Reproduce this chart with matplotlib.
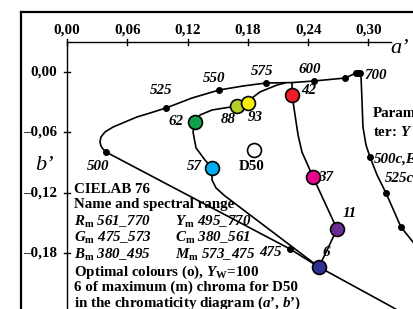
import numpy as np
import matplotlib.pyplot as plt

plt.rcParams['font.family'] = ['Liberation Serif', 'DejaVu Serif']
plt.rcParams['mathtext.fontset'] = 'custom'
plt.rcParams['mathtext.rm'] = 'Liberation Serif:bold'
plt.rcParams['mathtext.it'] = 'Liberation Serif:italic:bold'
plt.rcParams['mathtext.bf'] = 'Liberation Serif:bold'

# Spectral locus (a', b')
locus_a = [0.2925, 0.2876, 0.2766, 0.2458, 0.2239, 0.1980, 0.1751, 0.1512, 0.1244,
           0.0985, 0.0826, 0.0697, 0.0577, 0.0458, 0.0378, 0.0338, 0.0328, 0.0338,
           0.0358, 0.0388, 0.2219, 0.2507, 0.3234, 0.3612]
locus_b = [-0.0010, -0.0010, -0.0060, -0.0089, -0.0105, -0.0109, -0.0139, -0.0179, -0.0258,
           -0.0357, -0.0407, -0.0446, -0.0496, -0.0546, -0.0595, -0.0645, -0.0694, -0.0734,
           -0.0764, -0.0794, -0.1756, -0.1935, -0.2331, -0.2560]

# labelled wavelength points on the locus
wl_labels = ['700', '600', '575', '550', '525', '500', '475']
wl_a = [0.2915, 0.2458, 0.1980, 0.1512, 0.0985, 0.0388, 0.2219]
wl_b = [-0.0010, -0.0089, -0.0109, -0.0179, -0.0357, -0.0794, -0.1756]
extra_dots_a = [0.2876, 0.2896, 0.2766]
extra_dots_b = [-0.0010, -0.0010, -0.0060]

# second curve (parameter Y) starting at 700
ycurve_a = [0.2925, 0.2935, 0.2945, 0.2975, 0.3015, 0.3085, 0.3174, 0.3323, 0.3443, 0.3562]
ycurve_b = [-0.0030, -0.0278, -0.0546, -0.0724, -0.0843, -0.1022, -0.1200, -0.1538, -0.1687, -0.1860]
ydots_labels = ['500c,E', '525c', '']
ydots_a = [0.3015, 0.3174, 0.3323]
ydots_b = [-0.0843, -0.1200, -0.1538]

# loop of optimal colours
loop_a = [0.2169, 0.2090, 0.1920, 0.1841, 0.1801, 0.1692, 0.1443, 0.1323, 0.1274,
          0.1254, 0.1284, 0.1373, 0.1443, 0.1443, 0.1483, 0.1572, 0.2507, 0.2687,
          0.2448, 0.2338, 0.2299, 0.2269, 0.2239, 0.2239]
loop_b = [-0.0109, -0.0129, -0.0198, -0.0258, -0.0308, -0.0337, -0.0377, -0.0427, -0.0496,
          -0.0595, -0.0754, -0.0873, -0.0952, -0.1071, -0.1151, -0.1230, -0.1935, -0.1558,
          -0.1042, -0.0794, -0.0625, -0.0427, -0.0228, -0.0109]

# colour circles: label, a', b', colour
circ_labels = ['62', '88', '93', '42', '57', '37', '11', '6']
circ_a = [0.1274, 0.1692, 0.1801, 0.2239, 0.1443, 0.2448, 0.2687, 0.2507]
circ_b = [-0.0496, -0.0337, -0.0308, -0.0228, -0.0952, -0.1042, -0.1558, -0.1935]
circ_colors = ['#12a04a', '#b5cf2a', '#f8ec0a', '#ee1c25', '#00aeef', '#e8058c', '#6a2c91', '#2e3192']

d50_a, d50_b = 0.1861, -0.0774

x_ticks = [0.00, 0.06, 0.12, 0.18, 0.24, 0.30]
y_ticks = [0.00, -0.06, -0.12, -0.18]

px = 1 / 1005.0  # one pixel in data units
fs = 10.8

fig = plt.figure(figsize=(4.13, 3.09), dpi=100)
ax = fig.add_axes([0, 0, 1, 1])
ax.set_xlim(-67 / 1005, 346 / 1005)
ax.set_ylim(-237 / 1008, 72 / 1008)
ax.axis('off')

# outer frame
fig.add_artist(plt.Line2D([20.5 / 413, 20.5 / 413], [0, 1 - 12 / 309], color='black', lw=1.6))
fig.add_artist(plt.Line2D([20.5 / 413, 1], [1 - 12 / 309, 1 - 12 / 309], color='black', lw=1.6))

# axes
y_ax = 30 / 1008
ax.plot([0, 0.322], [y_ax, y_ax], color='black', lw=1.0)
ax.plot([0, 0], [y_ax, -0.25], color='black', lw=1.0)
for t in x_ticks:
    ax.plot([t, t], [y_ax - 3 * px, y_ax + 3 * px], color='black', lw=1.0)
    ax.text(t, y_ax + 12 * px, f"{t:.2f}".replace('.', ','), ha='center', va='center',
            fontsize=fs, fontweight='bold')
for t in y_ticks:
    ax.plot([-3 * px, 3 * px], [t, t], color='black', lw=1.0)
    lab = f"{abs(t):.2f}".replace('.', ',')
    if t < 0:
        lab = '\u2013' + lab
    ax.text(-10 * px, t, lab, ha='right', va='center', fontsize=fs, fontweight='bold')
ax.text(0.3313, 0.0238, "a\u2019", ha='center', va='center', fontsize=16, style='italic')
ax.text(-0.0229, -0.0923, "b\u2019", ha='center', va='center', fontsize=16, style='italic')

# curves
ax.plot(locus_a, locus_b, color='black', lw=1.2, zorder=2)
ax.plot(ycurve_a, ycurve_b, color='black', lw=1.2, zorder=2)
ax.plot(loop_a, loop_b, color='black', lw=1.2, zorder=2)
ax.plot(wl_a, wl_b, 'o', color='black', ms=4, zorder=3)
ax.plot(extra_dots_a, extra_dots_b, 'o', color='black', ms=4, zorder=3)
ax.plot(ydots_a, ydots_b, 'o', color='black', ms=4, zorder=3)

lab_kw = dict(fontsize=fs, fontweight='bold', style='italic', textcoords='offset pixels')
wl_offsets = {'700': (4, -2, 'left'), '600': (-4, 11, 'center'), '575': (-4, 11, 'center'),
              '550': (-5, 12, 'center'), '525': (-5, 17, 'center'), '500': (-8, -14, 'center'),
              '475': (-20, -3, 'center')}
for lab, a, b in zip(wl_labels, wl_a, wl_b):
    dx, dy, ha = wl_offsets[lab]
    ax.annotate(lab, (a, b), xytext=(dx, dy), ha=ha, va='center', **lab_kw)
y_offsets = [(4, -2), (-1, 14)]
for lab, a, b, (dx, dy) in zip(ydots_labels, ydots_a, ydots_b, y_offsets):
    ax.annotate(lab, (a, b), xytext=(dx, dy), ha='left', va='center', **lab_kw)

# colour circles
c_offsets = {'62': (-12, 0, 'right'), '88': (-9, -14, 'center'), '93': (7, -14, 'center'),
             '42': (9, 4, 'left'), '57': (-10, 1, 'right'), '37': (5, 0, 'left'),
             '11': (13, 16, 'center'), '6': (7, 15, 'center')}
for lab, a, b, c in zip(circ_labels, circ_a, circ_b, circ_colors):
    ax.plot(a, b, 'o', ms=10, mfc=c, mec='black', mew=1.2, zorder=4)
    dx, dy, ha = c_offsets[lab]
    ax.annotate(lab, (a, b), xytext=(dx, dy), ha=ha, va='center', zorder=5, **lab_kw)
ax.plot(d50_a, d50_b, 'o', ms=10, mfc='white', mec='black', mew=1.2, zorder=4)
ax.annotate('D50', (d50_a, d50_b), xytext=(-2, -16), textcoords='offset pixels',
            ha='center', va='center', fontsize=fs, fontweight='bold')

# parameter text on the right
ax.text(0.3045, -0.0407, "Parame-", ha='left', va='center', fontsize=fs, fontweight='bold')
ax.text(0.3045, -0.0595, "ter: $Y$", ha='left', va='center', fontsize=fs, fontweight='bold')

# legend text block
tx = 0.0070
rows = [-0.1161, -0.1319, -0.1488, -0.1647, -0.1815, -0.1984, -0.2133, -0.2292]
tkw = dict(ha='left', va='center', fontsize=fs, fontweight='bold')
ax.text(tx, rows[0], "CIELAB 76", **tkw)
ax.text(tx, rows[1], "Name and spectral range", **tkw)
ax.text(tx, rows[2], "$R_{\\mathrm{m}}$ 561_770", style='italic', **tkw)
ax.text(0.1075, rows[2], "$Y_{\\mathrm{m}}$ 495_770", style='italic', **tkw)
ax.text(tx, rows[3], "$G_{\\mathrm{m}}$ 475_573", style='italic', **tkw)
ax.text(0.1075, rows[3], "$C_{\\mathrm{m}}$ 380_561", style='italic', **tkw)
ax.text(tx, rows[4], "$B_{\\mathrm{m}}$ 380_495", style='italic', **tkw)
ax.text(0.1075, rows[4], "$M_{\\mathrm{m}}$ 573_475", style='italic', **tkw)
ax.text(tx, rows[5], "Optimal colours (o), $Y_{\\mathrm{W}}$=100", **tkw)
ax.text(tx, rows[6], "6 of maximum (m) chroma for D50", **tkw)
ax.text(tx, rows[7], "in the chromaticity diagram ($a$\u2019, $b$\u2019)", **tkw)

fig.savefig('out.png', dpi=100)
